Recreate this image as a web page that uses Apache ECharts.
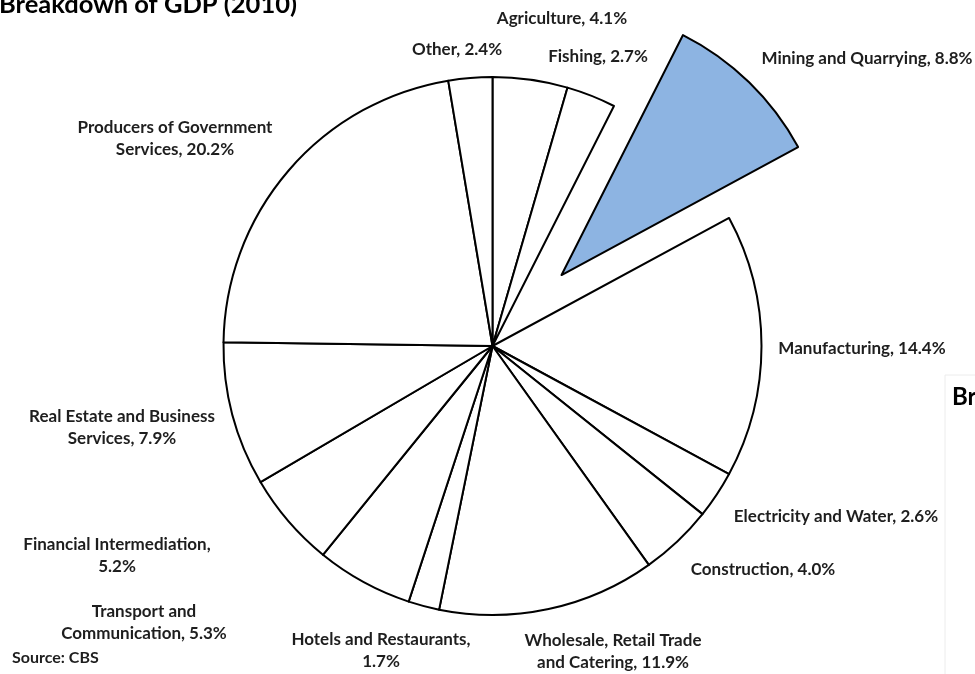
<!DOCTYPE html>
<html>
<head>
<meta charset="utf-8">
<script src="https://cdn.jsdelivr.net/npm/echarts@6/dist/echarts.min.js"></script>
<style>
  html, body { margin: 0; padding: 0; background: #ffffff; }
  #chart { width: 975px; height: 674px; }
</style>
</head>
<body>
<div id="chart"></div>
<script>
// GDP shares by sector, 2010 (percent), clockwise from 12 o'clock
const sectors = [
  'Agriculture',
  'Fishing',
  'Mining and Quarrying',
  'Manufacturing',
  'Electricity and Water',
  'Construction',
  'Wholesale, Retail Trade\nand Catering',
  'Hotels and Restaurants',
  'Transport and\nCommunication',
  'Financial Intermediation',
  'Real Estate and Business\nServices',
  'Producers of Government\nServices',
  'Other'
];
const shares = [4.1, 2.7, 8.8, 14.4, 2.6, 4.0, 11.9, 1.7, 5.3, 5.2, 7.9, 20.2, 2.4];

// Sector pulled out of the pie
const highlighted = 'Mining and Quarrying';
// Labels whose value goes on its own line
const valueOnNewLine = ['Hotels and Restaurants', 'Financial Intermediation'];

// Label anchor points (centre of each text block)
const labelAnchors = [
  [562, 19], [598, 57], [867, 59], [862, 349], [836, 517], [763, 570],
  [613, 652], [381, 651], [144, 623], [117, 556], [122, 428], [175, 139], [457, 50]
];

const FAMILY = 'Lato, "Open Sans", sans-serif';
const PIE_CENTER = [492.5, 346];
const PIE_RADIUS = 269;

const chart = echarts.init(document.getElementById('chart'), null, { renderer: 'canvas' });

const sliceData = sectors.map((name, i) => ({
  name: name,
  value: shares[i],
  selected: name === highlighted,
  itemStyle: { color: name === highlighted ? '#8DB4E2' : '#ffffff' }
}));

const labelData = sectors.map((name, i) => ({ name: name, value: shares[i] }));

chart.setOption({
  animation: false,
  backgroundColor: '#ffffff',
  graphic: [
    {
      type: 'text',
      left: -1, top: -8,
      style: { text: 'Breakdown of GDP (2010)', font: 'bold 25.5px ' + FAMILY, fill: '#000000' }
    },
    {
      type: 'rect',
      shape: { x: 945, y: 375, width: 60, height: 320 },
      style: { fill: '#ffffff', stroke: '#ececec', lineWidth: 1 },
      z: -1
    },
    {
      type: 'text',
      left: 952, top: 385,
      style: { text: 'Breakdown', font: 'bold 24px ' + FAMILY, fill: '#000000' }
    },
    {
      type: 'text',
      left: 12, top: 650,
      style: { text: 'Source: CBS', font: 'bold 16px ' + FAMILY, fill: '#1e1e1e' }
    }
  ],
  series: [
    {
      // the slices, with the highlighted sector pulled out
      type: 'pie',
      center: PIE_CENTER,
      radius: [0, PIE_RADIUS],
      startAngle: 90,
      clockwise: true,
      selectedMode: 'single',
      selectedOffset: 99,
      itemStyle: { borderColor: '#000000', borderWidth: 2 },
      select: { itemStyle: { borderColor: '#000000', borderWidth: 2 } },
      emphasis: { disabled: true },
      label: { show: false },
      labelLine: { show: false },
      data: sliceData
    },
    {
      // sector labels, laid out around the pie
      type: 'pie',
      center: PIE_CENTER,
      radius: [0, PIE_RADIUS],
      startAngle: 90,
      clockwise: true,
      silent: true,
      selectedMode: false,
      avoidLabelOverlap: false,
      itemStyle: { color: 'rgba(0,0,0,0)', borderWidth: 0 },
      emphasis: { disabled: true },
      labelLine: { show: false },
      label: {
        show: true,
        position: 'outside',
        fontFamily: FAMILY,
        fontSize: 17,
        fontWeight: 'bold',
        color: '#1e1e1e',
        lineHeight: 22,
        align: 'center',
        formatter: p => p.name + ',' + (valueOnNewLine.includes(p.name) ? '\n' : ' ') +
          Number(p.value).toFixed(1) + '%'
      },
      labelLayout: p => ({
        x: labelAnchors[p.dataIndex][0],
        y: labelAnchors[p.dataIndex][1],
        align: 'center',
        verticalAlign: 'middle'
      }),
      data: labelData
    }
  ]
});
</script>
</body>
</html>
